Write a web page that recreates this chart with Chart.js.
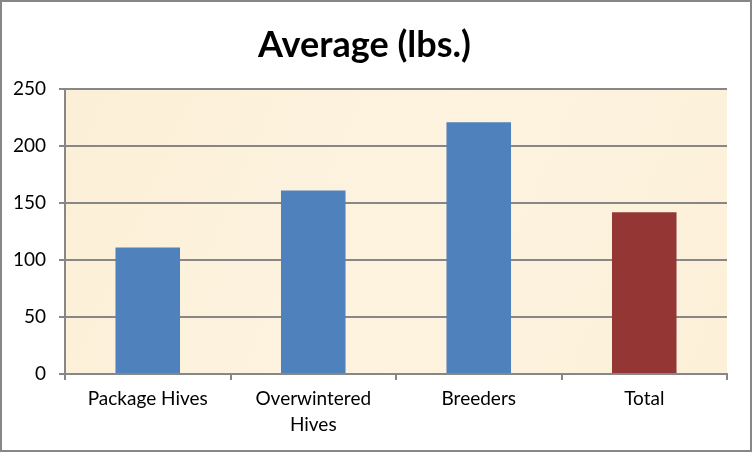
<!DOCTYPE html>
<html>
<head>
<meta charset="utf-8">
<script src="https://cdn.jsdelivr.net/npm/chart.js@4"></script>
<style>
  body { margin: 0; background: #fff; }
  #wrap { width: 752px; height: 452px; box-sizing: border-box; border: 2px solid #878787; }
</style>
</head>
<body>
<div id="wrap"><canvas id="bargraph" width="748" height="448"></canvas></div>
<script>
const categories = ["Package Hives", ["Overwintered", "Hives"], "Breeders", "Total"];
const averages = [111, 161, 221, 142];
const barColors = ['#4F81BD', '#4F81BD', '#4F81BD', '#943634'];
const yTicks = [0, 50, 100, 150, 200, 250];

// parchment fill behind the plot
const plotBg = {
  id: 'plotBg',
  beforeDraw(chart) {
    const { ctx, chartArea: a } = chart;
    const g = ctx.createLinearGradient(a.left, a.top, a.right, a.bottom);
    g.addColorStop(0, '#FCEFD7');
    g.addColorStop(0.5, '#FDF3DF');
    g.addColorStop(1, '#FCF0D9');
    ctx.save();
    ctx.fillStyle = g;
    ctx.fillRect(a.left, a.top, a.right - a.left, a.bottom - a.top);
    ctx.restore();
  }
};

const bargraph = document.querySelector("#bargraph").getContext('2d');

new Chart(bargraph, {
  type: "bar",
  data: {
    labels: categories,
    datasets: [
      {
        data: averages,
        backgroundColor: barColors,
        barPercentage: 0.39,
        categoryPercentage: 1
      }
    ]
  },
  options: {
    responsive: false,
    animation: false,
    layout: { padding: { left: 0, right: 23, top: 0, bottom: 0 } },
    plugins: {
      legend: { display: false },
      tooltip: { enabled: false },
      title: {
        display: true,
        text: 'Average (lbs.)',
        color: '#000',
        font: { family: 'Lato', size: 36, weight: 'bold' },
        padding: { top: 22, bottom: 22 }
      }
    },
    scales: {
      x: {
        afterFit(s) { s.height = 76; },
        grid: { display: true, offset: true, drawOnChartArea: false, color: '#878787', lineWidth: 2, tickLength: 6 },
        border: { color: '#878787', width: 2 },
        ticks: { color: '#000', font: { family: 'Lato', size: 19, lineHeight: 1.35 }, padding: 6, maxRotation: 0 }
      },
      y: {
        min: 0,
        max: 250,
        afterFit(s) { s.width = 63; },
        afterBuildTicks(s) { s.ticks = yTicks.map(v => ({ value: v })); },
        grid: { color: '#878787', lineWidth: 2, tickLength: 6 },
        border: { color: '#878787', width: 2 },
        ticks: { color: '#000', font: { family: 'Lato', size: 19 }, padding: 13 }
      }
    }
  },
  plugins: [plotBg]
});
</script>
</body>
</html>
